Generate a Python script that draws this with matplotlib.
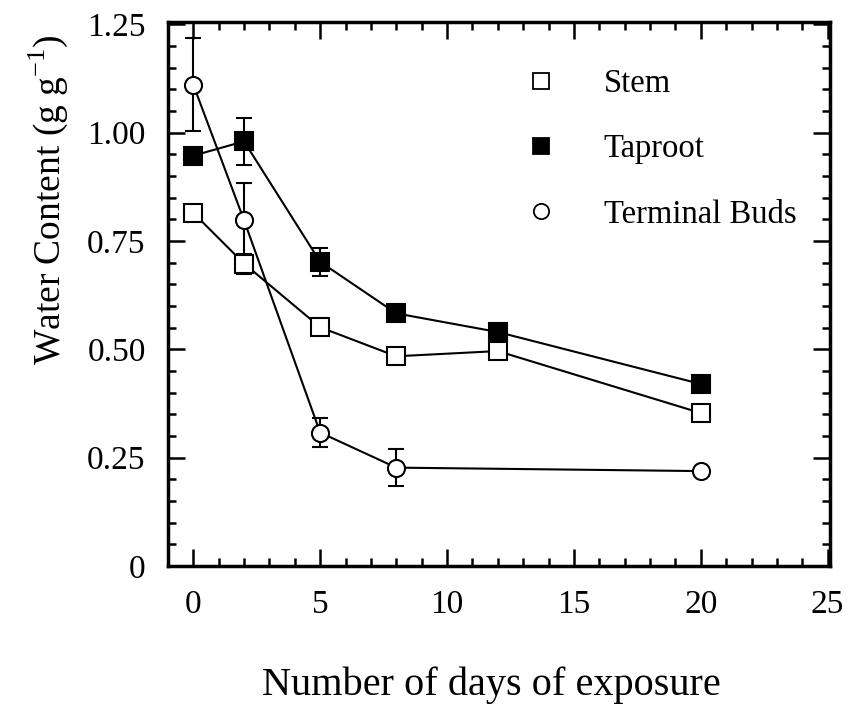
import numpy as np
import matplotlib
matplotlib.use("Agg")
import matplotlib.pyplot as plt
from matplotlib.ticker import MultipleLocator, FixedLocator, FixedFormatter
from matplotlib.lines import Line2D

plt.rcParams["font.family"] = ["Liberation Serif", "DejaVu Serif"]

# days of exposure
stem_days = [0, 2, 5, 8, 12, 20]
stem_vals = [0.815, 0.698, 0.551, 0.484, 0.496, 0.353]
stem_err = [0.0, 0.023, 0.0, 0.0, 0.0, 0.0]

tap_days = [0, 2, 5, 8, 12, 20]
tap_vals = [0.947, 0.980, 0.702, 0.583, 0.540, 0.420]
tap_err = [0.0, 0.054, 0.033, 0.0, 0.0, 0.0]

bud_days = [0, 2, 5, 8, 20]
bud_vals = [1.111, 0.798, 0.308, 0.227, 0.219]
bud_err = [0.108, 0.086, 0.034, 0.042, 0.0]

y_ticks = [0, 0.25, 0.5, 0.75, 1.0, 1.25]
y_labels = ["0", "0.25", "0.50", "0.75", "1.00", "1.25"]
x_ticks = [0, 5, 10, 15, 20, 25]

fig = plt.figure(figsize=(8.48, 7.08), dpi=100)
ax = fig.add_axes([0.198, 0.2006, 0.781, 0.768])

ms = 12.3
common = dict(color="black", lw=1.5, capsize=6, elinewidth=1.5, capthick=1.5)
ax.errorbar(stem_days, stem_vals, yerr=stem_err, marker="s", ms=ms,
            mfc="white", mec="black", mew=1.5, **common)
ax.errorbar(tap_days, tap_vals, yerr=tap_err, marker="s", ms=ms,
            mfc="black", mec="black", mew=1.5, **common)
ax.errorbar(bud_days, bud_vals, yerr=bud_err, marker="o", ms=ms,
            mfc="white", mec="black", mew=1.5, **common)

ax.set_xlim(-1, 25.1)
ax.set_ylim(0, 1.255)
ax.xaxis.set_major_locator(FixedLocator(x_ticks))
ax.xaxis.set_minor_locator(MultipleLocator(1))
ax.yaxis.set_major_locator(FixedLocator(y_ticks))
ax.yaxis.set_major_formatter(FixedFormatter(y_labels))
ax.yaxis.set_minor_locator(MultipleLocator(0.05))

ax.tick_params(which="both", direction="in", top=True, right=True,
               width=1.8, labelsize=24)
ax.tick_params(which="major", length=12)
ax.tick_params(axis="y", which="major", pad=16)
ax.tick_params(axis="x", which="major", pad=17)
ax.tick_params(which="minor", length=6)
for s in ax.spines.values():
    s.set_linewidth(2.5)

ax.set_xlabel("Number of days of exposure", fontsize=29, va="center")
ax.xaxis.set_label_coords(0.489, -0.219)
ax.set_ylabel("Water Content (g g$^{\\mathregular{-1}}$)", fontsize=27, va="center")
ax.yaxis.set_label_coords(-0.181, 0.673)

handles = [
    Line2D([], [], ls="none", marker="s", ms=11, mfc="white", mec="black", mew=1.3),
    Line2D([], [], ls="none", marker="s", ms=11, mfc="black", mec="black", mew=1.3),
    Line2D([], [], ls="none", marker="o", ms=11, mfc="white", mec="black", mew=1.3),
]
ax.legend(handles, ["Stem", "Taproot", "Terminal Buds"], loc="upper left",
          bbox_to_anchor=(0.538, 0.915), frameon=False, fontsize=23.5,
          labelspacing=1.07, handlelength=1.0, handletextpad=1.43,
          borderpad=0, borderaxespad=0)

fig.savefig("out.png", dpi=100)
